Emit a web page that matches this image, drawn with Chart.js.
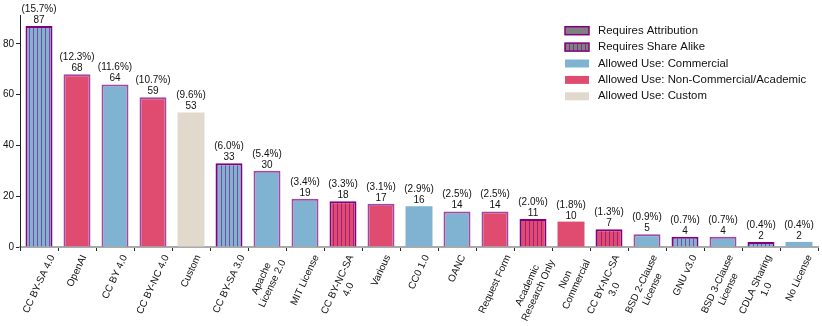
<!DOCTYPE html>
<html>
<head>
<meta charset="utf-8">
<script src="https://cdn.jsdelivr.net/npm/chart.js@4"></script>
<style>
  html, body { margin: 0; padding: 0; background: #fff; }
</style>
</head>
<body>
<canvas id="licences" width="822" height="326"></canvas>
<script>
// licences, sorted by number of datasets
const names = [
  'CC BY-SA 4.0', 'OpenAI', 'CC BY 4.0', 'CC BY-NC 4.0', 'Custom', 'CC BY-SA 3.0',
  ['Apache', 'License 2.0'], 'MIT License', ['CC BY-NC-SA', '4.0'], 'Various', 'CC0 1.0',
  'OANC', 'Request Form', ['Academic', 'Research Only'], ['Non', 'Commercial'],
  ['CC BY-NC-SA', '3.0'], ['BSD 2-Clause', 'License'], 'GNU v3.0', ['BSD 3-Clause', 'License'],
  ['CDLA Sharing', '1.0'], 'No License'
];
const counts = [87, 68, 64, 59, 53, 33, 30, 19, 18, 17, 16, 14, 14, 11, 10, 7, 5, 4, 4, 2, 2];
const shares = ['15.7', '12.3', '11.6', '10.7', '9.6', '6.0', '5.4', '3.4', '3.3', '3.1', '2.9',
  '2.5', '2.5', '2.0', '1.8', '1.3', '0.9', '0.7', '0.7', '0.4', '0.4'];
// C = commercial, N = non-commercial/academic, X = custom
const allowedUse = ['C', 'N', 'C', 'N', 'X', 'C', 'C', 'C', 'N', 'N', 'C',
  'C', 'N', 'N', 'N', 'N', 'C', 'C', 'C', 'C', 'C'];
const attribution = [1, 1, 1, 1, 0, 1, 1, 1, 1, 1, 0, 1, 1, 1, 0, 1, 1, 1, 1, 1, 0];
const shareAlike = [1, 0, 0, 0, 0, 1, 0, 0, 1, 0, 0, 0, 0, 1, 0, 1, 0, 1, 0, 1, 0];
const yTicks = [0, 20, 40, 60, 80];
const legendNames = ['Requires Attribution', 'Requires Share Alike', 'Allowed Use: Commercial',
  'Allowed Use: Non-Commercial/Academic', 'Allowed Use: Custom'];

const FONT = '"Liberation Sans", Arial, Helvetica, sans-serif';
const PURPLE = '#800080';
const useColor = { C: '#7fb3d1', N: '#e04c70', X: '#e0d9cc' };

function hatch(base) {
  const c = document.createElement('canvas');
  c.width = 4; c.height = 4;
  const g = c.getContext('2d');
  g.fillStyle = base;
  g.fillRect(0, 0, 4, 4);
  g.fillStyle = 'rgba(128,0,128,0.6)';
  g.fillRect(1, 0, 1, 4);
  return g.createPattern(c, 'repeat');
}

const fills = allowedUse.map((u, i) => shareAlike[i] ? hatch(useColor[u]) : useColor[u]);
const edges = shareAlike.map(s => s ? PURPLE : 'rgba(128,0,128,0.72)');
const edgeWidths = attribution.map(a => a ? 2 : 0);

Chart.defaults.font.family = FONT;
Chart.defaults.color = '#111';

// numbers and percentages above each bar
const barText = {
  id: 'barText',
  afterDatasetsDraw(chart) {
    const ctx = chart.ctx;
    ctx.save();
    ctx.font = '10px ' + FONT;
    ctx.fillStyle = '#111';
    ctx.textAlign = 'center';
    ctx.textBaseline = 'alphabetic';
    chart.getDatasetMeta(0).data.forEach((bar, i) => {
      ctx.fillText(String(counts[i]), bar.x, bar.y - 3);
      ctx.fillText('(' + shares[i] + '%)', bar.x, bar.y - 14);
    });
    ctx.restore();
  }
};

// rotated category labels, lines centred on each other
const rotatedLabels = {
  id: 'rotatedLabels',
  afterDraw(chart) {
    const ctx = chart.ctx;
    const xs = chart.scales.x;
    const ang = 65 * Math.PI / 180;
    const lh = 12;
    ctx.save();
    ctx.font = '10px ' + FONT;
    ctx.fillStyle = '#111';
    ctx.textAlign = 'center';
    ctx.textBaseline = 'middle';
    names.forEach((n, i) => {
      const lines = Array.isArray(n) ? n : [n];
      const w = Math.max(...lines.map(l => ctx.measureText(l).width));
      const h = lines.length * lh;
      const bh = w * Math.sin(ang) + h * Math.cos(ang);
      const x = xs.getPixelForValue(i);
      const y = chart.chartArea.bottom + 6 + bh / 2;
      ctx.save();
      ctx.translate(x, y);
      ctx.rotate(-ang);
      lines.forEach((l, k) => ctx.fillText(l, 0, (k - (lines.length - 1) / 2) * lh));
      ctx.restore();
    });
    ctx.restore();
  }
};

// legend in the upper right
const boxLegend = {
  id: 'boxLegend',
  afterDraw(chart) {
    const ctx = chart.ctx;
    const grey = '#808080';
    ctx.save();
    ctx.font = '11.4px ' + FONT;
    ctx.textBaseline = 'middle';
    ctx.textAlign = 'left';
    legendNames.forEach((name, i) => {
      const y = 30.7 + i * 16.4;
      const bx = 565, bw = 24, bh = 8;
      if (i === 0) {
        ctx.fillStyle = grey;
      } else if (i === 1) {
        ctx.fillStyle = hatch(grey);
      } else {
        ctx.fillStyle = useColor['CNX'[i - 2]];
      }
      ctx.fillRect(bx, y - bh / 2, bw, bh);
      if (i < 2) {
        ctx.strokeStyle = PURPLE;
        ctx.lineWidth = 1.5;
        ctx.strokeRect(bx, y - bh / 2, bw, bh);
      }
      ctx.fillStyle = '#111';
      ctx.fillText(name, 598, y);
    });
    ctx.restore();
  }
};

new Chart(document.getElementById('licences'), {
  type: 'bar',
  data: {
    labels: names,
    datasets: [{
      data: counts,
      backgroundColor: fills,
      borderColor: edges,
      borderWidth: edgeWidths,
      barPercentage: 0.71,
      categoryPercentage: 1
    }]
  },
  options: {
    responsive: false,
    animation: false,
    devicePixelRatio: 1,
    layout: { padding: { top: 15, right: 4, left: 0, bottom: 0 } },
    plugins: { legend: { display: false }, tooltip: { enabled: false } },
    scales: {
      x: {
        grid: { drawOnChartArea: false, tickLength: 4, color: '#222' },
        border: { color: '#aaaaaa', width: 2 },
        ticks: { display: false },
        afterFit: s => { s.height = 79; }
      },
      y: {
        min: 0,
        max: 91.35,
        grid: { drawOnChartArea: false, tickLength: 4, color: '#222' },
        border: { color: '#222', width: 1 },
        ticks: { stepSize: 20, padding: 2, font: { size: 10 }, color: '#111' },
        afterBuildTicks: s => { s.ticks = yTicks.map(v => ({ value: v })); },
        afterFit: s => { s.width = 20; }
      }
    }
  },
  plugins: [barText, rotatedLabels, boxLegend]
});
</script>
</body>
</html>
